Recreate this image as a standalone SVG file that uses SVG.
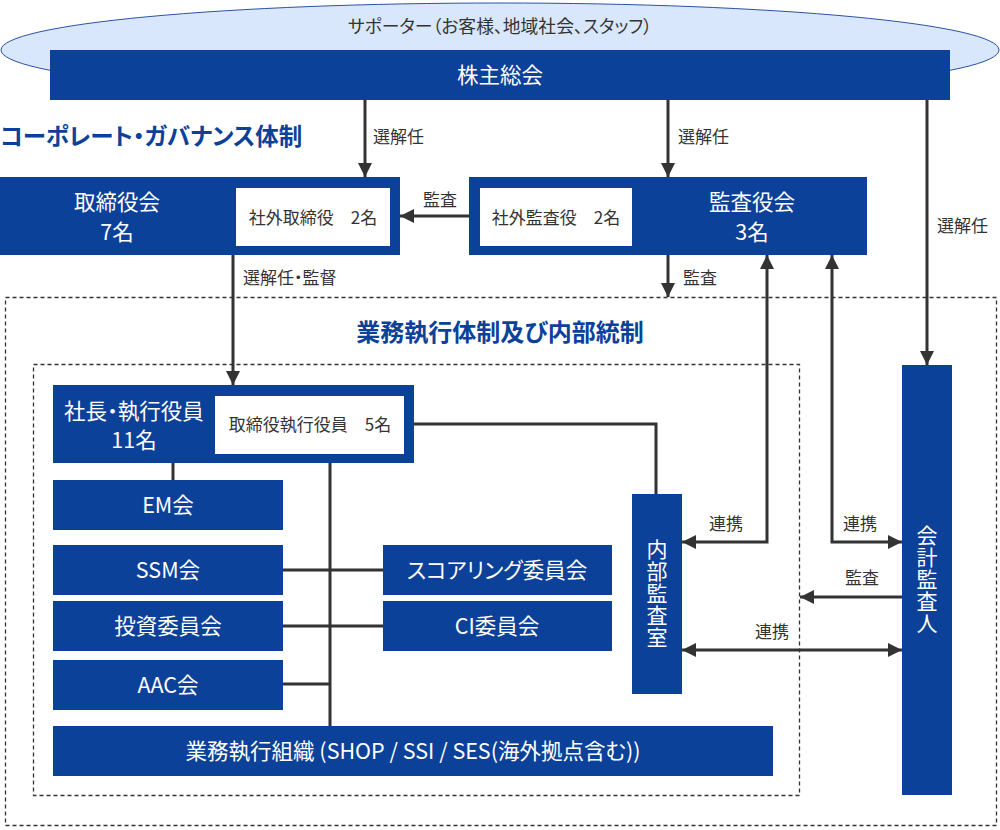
<svg xmlns="http://www.w3.org/2000/svg" width="1000" height="830" viewBox="0 0 1000 830">
<defs>
<style>
text{font-family:"Noto Sans CJK JP","Noto Sans",sans-serif;font-feature-settings:"palt";}
.box{fill:#0c4199;}
.inner{fill:#ffffff;}
.wt{fill:#ffffff;font-size:21.5px;text-anchor:middle;}
.vt{fill:#ffffff;font-size:21px;text-anchor:middle;writing-mode:vertical-rl;letter-spacing:1px;font-feature-settings:normal;}
.dk{fill:#333333;font-size:17px;text-anchor:middle;}
.lb{fill:#333333;font-size:17px;}
.ttl{fill:#0c4199;font-size:23.5px;font-weight:bold;}
.ln{stroke:#333333;stroke-width:3;fill:none;}
.dash{stroke:#333333;stroke-width:1.3;fill:none;stroke-dasharray:4 3;}
</style>
<marker id="ah" viewBox="0 0 14 14" refX="14" refY="7" markerWidth="14" markerHeight="14" markerUnits="userSpaceOnUse" orient="auto-start-reverse">
<path d="M0,0 L14,7 L0,14 z" fill="#333333"/>
</marker>
</defs>
<rect width="1000" height="830" fill="#ffffff"/>

<g id="frames">
<rect class="dash" x="5.5" y="297.5" width="991" height="528"/>
<rect class="dash" x="33.5" y="364.5" width="766" height="431"/>
<text class="ttl" x="0" y="145">コーポレート・ガバナンス体制</text>
<text class="ttl" x="500" y="341" text-anchor="middle" style="font-size:24px">業務執行体制及び内部統制</text>
</g>

<g id="supporters">
<ellipse cx="500" cy="50" rx="499" ry="47" fill="#d8e7fb" stroke="#2b52a5" stroke-width="1"/>
<text x="500" y="33" fill="#333333" font-size="17.8" text-anchor="middle">サポーター（お客様、地域社会、スタッフ）</text>
</g>

<g id="shareholders">
<rect class="box" x="50" y="50" width="900" height="50"/>
<text class="wt" x="500" y="83">株主総会</text>
</g>

<g id="connectors">
<line class="ln" x1="365" y1="100" x2="365" y2="177" marker-end="url(#ah)"/>
<line class="ln" x1="668" y1="100" x2="668" y2="177" marker-end="url(#ah)"/>
<line class="ln" x1="927" y1="100" x2="927" y2="365" marker-end="url(#ah)"/>
<line class="ln" x1="469" y1="216" x2="400" y2="216" marker-end="url(#ah)"/>
<line class="ln" x1="668" y1="255" x2="668" y2="297" marker-end="url(#ah)"/>
<line class="ln" x1="233" y1="255" x2="233" y2="385" marker-end="url(#ah)"/>
<polyline class="ln" points="414,424 656,424 656,494"/>
<line class="ln" x1="173" y1="463" x2="173" y2="480"/>
<line class="ln" x1="330" y1="463" x2="330" y2="726"/>
<line class="ln" x1="283" y1="570" x2="383" y2="570"/>
<line class="ln" x1="283" y1="626" x2="383" y2="626"/>
<line class="ln" x1="283" y1="684" x2="330" y2="684"/>
<polyline class="ln" points="767,255 767,542 682,542" marker-start="url(#ah)" marker-end="url(#ah)"/>
<polyline class="ln" points="832,255 832,542 902,542" marker-start="url(#ah)" marker-end="url(#ah)"/>
<line class="ln" x1="902" y1="597" x2="800" y2="597" marker-end="url(#ah)"/>
<line class="ln" x1="682" y1="650" x2="902" y2="650" marker-start="url(#ah)" marker-end="url(#ah)"/>
<text class="lb" x="373" y="143">選解任</text>
<text class="lb" x="678" y="143">選解任</text>
<text class="lb" x="937" y="232">選解任</text>
<text class="lb" x="423" y="206">監査</text>
<text class="lb" x="683" y="284">監査</text>
<text class="lb" x="243" y="284">選解任・監督</text>
<text class="lb" x="709" y="530">連携</text>
<text class="lb" x="843" y="530">連携</text>
<text class="lb" x="845" y="584">監査</text>
<text class="lb" x="755" y="638">連携</text>
</g>

<g id="board">
<rect class="box" x="0" y="177" width="400" height="78"/>
<rect class="inner" x="236" y="188" width="154" height="58"/>
<text class="wt" x="117" y="210">取締役会</text>
<text class="wt" x="117" y="240">7名</text>
<text class="dk" x="313" y="224">社外取締役　2名</text>
</g>

<g id="auditors">
<rect class="box" x="469" y="177" width="398" height="78"/>
<rect class="inner" x="480" y="188" width="152" height="58"/>
<text class="wt" x="752" y="210">監査役会</text>
<text class="wt" x="752" y="240">3名</text>
<text class="dk" x="556" y="224">社外監査役　2名</text>
</g>

<g id="president">
<rect class="box" x="53" y="385" width="361" height="78"/>
<rect class="inner" x="215" y="396" width="189" height="58"/>
<text class="wt" x="134" y="419">社長・執行役員</text>
<text class="wt" x="134" y="448">11名</text>
<text class="dk" x="310" y="431">取締役執行役員　5名</text>
</g>

<g id="em"><rect class="box" x="53" y="480" width="230" height="50"/><text class="wt" x="168" y="513">EM会</text></g>
<g id="ssm"><rect class="box" x="53" y="545" width="230" height="50"/><text class="wt" x="168" y="578">SSM会</text></g>
<g id="invest"><rect class="box" x="53" y="601" width="230" height="50"/><text class="wt" x="168" y="634">投資委員会</text></g>
<g id="aac"><rect class="box" x="53" y="660" width="230" height="50"/><text class="wt" x="168" y="693">AAC会</text></g>
<g id="scoring"><rect class="box" x="383" y="545" width="229" height="50"/><text class="wt" x="497" y="578">スコアリング委員会</text></g>
<g id="ci"><rect class="box" x="383" y="601" width="229" height="50"/><text class="wt" x="497" y="634">CI委員会</text></g>
<g id="operations"><rect class="box" x="53" y="726" width="720" height="50"/><text class="wt" x="413" y="759">業務執行組織 (SHOP / SSI / SES(海外拠点含む))</text></g>

<g id="internal-audit">
<rect class="box" x="632" y="494" width="50" height="200"/>
<text class="vt" x="657" y="594">内部監査室</text>
</g>

<g id="accounting-auditor">
<rect class="box" x="902" y="365" width="50" height="430"/>
<text class="vt" x="927" y="580">会計監査人</text>
</g>
</svg>
